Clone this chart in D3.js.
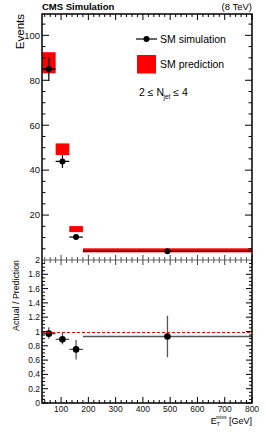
<!DOCTYPE html>
<html>
<head>
<meta charset="utf-8">
<script src="https://cdn.jsdelivr.net/npm/d3@7"></script>
<style>
  body { margin: 0; background: #fff; }
  text { font-family: "Liberation Sans", Arial, sans-serif; }
</style>
</head>
<body>
<div id="chart"></div>
<script>
// bins in MET [GeV]
const binLo = [30, 80, 130, 180];
const binHi = [80, 130, 180, 800];
const binCenter = [55, 105, 155, 490];

// SM simulation (points)
const simValues = [85, 43.9, 10.2, 3.9];
const simErrors = [5.3, 2.9, 0.9, 0.5];

// SM prediction (red boxes)
const predValues = [87.8, 49.3, 13.75, 4.3];
const predErrors = [4.7, 2.6, 1.35, 0.9];

// Actual / Prediction
const ratioValues = [0.97, 0.89, 0.75, 0.93];
const ratioErrLo = [0.07, 0.07, 0.14, 0.29];
const ratioErrHi = [0.09, 0.09, 0.13, 0.29];

const xTicks = [100, 200, 300, 400, 500, 600, 700, 800];
const yTicks = [20, 40, 60, 80, 100];
const rTicks = [0, 0.2, 0.4, 0.6, 0.8, 1, 1.2, 1.4, 1.6, 1.8, 2];

const W = 266, H = 433;
const pLeft = 42, pRight = 252, pTop = 14, pMid = 260, pBottom = 403;

const svg = d3.select('#chart')
  .append('svg')
    .attr('width', W)
    .attr('height', H);

const x = d3.scaleLinear().domain([30, 800]).range([pLeft, pRight]);
const y = d3.scaleLinear().domain([0, 109.5]).range([pMid, pTop]);
const yr = d3.scaleLinear().domain([0, 2]).range([pBottom, pMid]);

const xMinor = d3.range(40, 801, 20).filter(v => v % 100 !== 0);
const yMinor = d3.range(5, 110, 5).filter(v => v % 20 !== 0);
const rMinor = d3.range(0.05, 2, 0.05).filter(v => Math.abs(v * 5 - Math.round(v * 5)) > 1e-6);

// ---- top panel ----
const topG = svg.append('g');

// prediction boxes
topG.selectAll('.pred')
  .data(binLo)
  .enter().append('rect').attr('class', 'pred')
    .attr('x', (d, i) => x(binLo[i]))
    .attr('width', (d, i) => x(binHi[i]) - x(binLo[i]))
    .attr('y', (d, i) => y(predValues[i] + predErrors[i]))
    .attr('height', (d, i) => y(predValues[i] - predErrors[i]) - y(predValues[i] + predErrors[i]))
    .attr('fill', '#ff0000');

// simulation error bars
binLo.forEach((d, i) => {
  topG.append('line')
    .attr('x1', x(binLo[i])).attr('x2', x(binHi[i]))
    .attr('y1', y(simValues[i])).attr('y2', y(simValues[i]))
    .attr('stroke', '#000').attr('stroke-width', 1.2);
  topG.append('line')
    .attr('x1', x(binCenter[i])).attr('x2', x(binCenter[i]))
    .attr('y1', y(simValues[i] - simErrors[i])).attr('y2', y(simValues[i] + simErrors[i]))
    .attr('stroke', '#000').attr('stroke-width', 1.2);
});
topG.selectAll('.sim')
  .data(simValues)
  .enter().append('circle').attr('class', 'sim')
    .attr('cx', (d, i) => x(binCenter[i]))
    .attr('cy', d => y(d))
    .attr('r', 3)
    .attr('fill', '#000');

// ---- ratio panel ----
const botG = svg.append('g');

ratioValues.forEach((d, i) => {
  botG.append('line')
    .attr('x1', x(binLo[i])).attr('x2', x(binHi[i]))
    .attr('y1', yr(d)).attr('y2', yr(d))
    .attr('stroke', '#555').attr('stroke-width', 1.3);
  botG.append('line')
    .attr('x1', x(binCenter[i])).attr('x2', x(binCenter[i]))
    .attr('y1', yr(d - ratioErrLo[i])).attr('y2', yr(d + ratioErrHi[i]))
    .attr('stroke', '#555').attr('stroke-width', 1.3);
});
botG.selectAll('.ratio')
  .data(ratioValues)
  .enter().append('circle').attr('class', 'ratio')
    .attr('cx', (d, i) => x(binCenter[i]))
    .attr('cy', d => yr(d))
    .attr('r', 3.3)
    .attr('fill', '#000');

// ---- axes / frame ----
function tickLines(g, vals, fn, color) {
  g.selectAll(null).data(vals).enter().append('line')
    .attr('x1', d => fn(d)[0]).attr('y1', d => fn(d)[1])
    .attr('x2', d => fn(d)[2]).attr('y2', d => fn(d)[3])
    .attr('stroke', color || '#000').attr('stroke-width', 1);
}
const ax = svg.append('g');

// top edge of top panel
tickLines(ax, xTicks, d => [x(d), pTop, x(d), pTop + 6]);
tickLines(ax, xMinor, d => [x(d), pTop, x(d), pTop + 3]);
// left / right of top panel
tickLines(ax, yTicks, d => [pLeft, y(d), pLeft + 7, y(d)]);
tickLines(ax, yMinor, d => [pLeft, y(d), pLeft + 3.5, y(d)]);
tickLines(ax, yTicks, d => [pRight, y(d), pRight - 7, y(d)]);
tickLines(ax, yMinor, d => [pRight, y(d), pRight - 3.5, y(d)]);
// shared line between panels
ax.append('line').attr('x1', pLeft).attr('x2', pRight).attr('y1', pMid).attr('y2', pMid)
  .attr('stroke', '#666').attr('stroke-width', 1.2);
tickLines(ax, xTicks, d => [x(d), pMid - 5, x(d), pMid + 5], '#444');
tickLines(ax, xMinor, d => [x(d), pMid - 3, x(d), pMid + 3], '#555');
// ratio panel
tickLines(ax, rTicks.slice(0, -1), d => [pLeft, yr(d), pLeft + 6, yr(d)]);
tickLines(ax, rMinor, d => [pLeft, yr(d), pLeft + 3, yr(d)]);
tickLines(ax, rTicks.slice(0, -1), d => [pRight, yr(d), pRight - 6, yr(d)]);
tickLines(ax, rMinor, d => [pRight, yr(d), pRight - 3, yr(d)]);
tickLines(ax, xTicks, d => [x(d), pBottom, x(d), pBottom - 6]);
tickLines(ax, xMinor, d => [x(d), pBottom, x(d), pBottom - 3]);

// reference line at ratio 1, drawn over the ticks
ax.append('line')
  .attr('x1', pLeft).attr('x2', pRight)
  .attr('y1', Math.round(yr(1)) + 0.5).attr('y2', Math.round(yr(1)) + 0.5)
  .attr('stroke', '#ff0000').attr('stroke-width', 1.1)
  .attr('stroke-dasharray', '3,2');

// frame
ax.append('path')
  .attr('d', `M${pLeft},${pTop}H${pRight}V${pBottom}H${pLeft}Z`)
  .attr('fill', 'none').attr('stroke', '#000').attr('stroke-width', 1.5);

// tick labels
ax.selectAll('.ylab').data(yTicks).enter().append('text')
  .attr('x', pLeft - 2).attr('y', d => y(d) + 3.3)
  .attr('text-anchor', 'end').attr('font-size', 9.5).attr('fill', '#111')
  .text(d => d);
ax.append('text')
  .attr('x', pLeft - 2).attr('y', pMid + 3.3)
  .attr('text-anchor', 'end').attr('font-size', 9).attr('fill', '#111')
  .text('2');
ax.selectAll('.rlab').data(rTicks.slice(0, -1)).enter().append('text')
  .attr('x', pLeft - 2).attr('y', d => yr(d) + 3)
  .attr('text-anchor', 'end').attr('font-size', 8.5).attr('fill', '#111')
  .text(d => d === 0 || d === 1 ? d : d.toFixed(1));
ax.selectAll('.xlab').data(xTicks).enter().append('text')
  .attr('x', d => x(d)).attr('y', pBottom + 8.5)
  .attr('text-anchor', 'middle').attr('font-size', 8.5).attr('fill', '#111')
  .text(d => d);

// titles
svg.append('text')
  .attr('x', pLeft).attr('y', 10)
  .attr('font-size', 9.5).attr('font-weight', 'bold')
  .text('CMS Simulation');
svg.append('text')
  .attr('x', pRight).attr('y', 10)
  .attr('text-anchor', 'end').attr('font-size', 9.5)
  .text('(8 TeV)');
svg.append('text')
  .attr('transform', `translate(24,${pTop}) rotate(-90)`)
  .attr('text-anchor', 'end').attr('font-size', 11.5)
  .text('Events');
svg.append('text')
  .attr('transform', `translate(19,${pMid}) rotate(-90)`)
  .attr('text-anchor', 'end').attr('font-size', 8.8)
  .text('Actual / Prediction');

const xt = svg.append('text')
  .attr('x', pRight).attr('y', 424)
  .attr('text-anchor', 'end').attr('font-size', 9);
xt.append('tspan').text('E');
xt.append('tspan').attr('font-size', 5).attr('dy', 1.5).text('T');
xt.append('tspan').attr('font-size', 5).attr('dx', -3.5).attr('dy', -6.5).text('miss');
xt.append('tspan').attr('dy', 5).text(' [GeV]');

// legend
const lg = svg.append('g');
lg.append('line').attr('x1', 136).attr('x2', 157).attr('y1', 39).attr('y2', 39)
  .attr('stroke', '#000').attr('stroke-width', 1.2);
lg.append('circle').attr('cx', 146.5).attr('cy', 39).attr('r', 3).attr('fill', '#000');
lg.append('text').attr('x', 160).attr('y', 43).attr('font-size', 10.5).text('SM simulation');
lg.append('rect').attr('x', 137).attr('y', 55).attr('width', 19).attr('height', 18.5).attr('fill', '#ff0000');
lg.append('text').attr('x', 160).attr('y', 67.5).attr('font-size', 10.5).text('SM prediction');
const nj = lg.append('text').attr('x', 139).attr('y', 96).attr('font-size', 10.5);
nj.append('tspan').text('2 \u2264 N');
nj.append('tspan').attr('font-size', 6.5).attr('dy', 2.5).attr('dx', -0.5).text('jet');
nj.append('tspan').attr('dy', -2.5).text(' \u2264 4');
</script>
</body>
</html>
